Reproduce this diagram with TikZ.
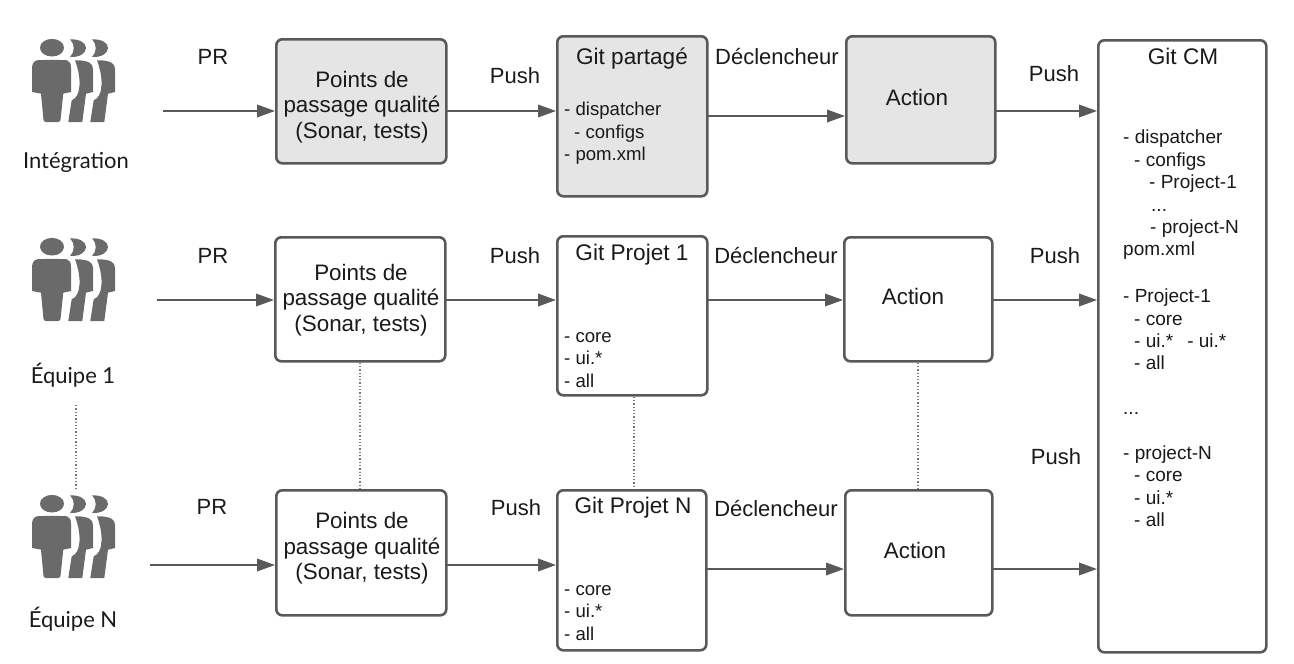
\documentclass[tikz,border=0pt]{standalone}
\usepackage{fontspec}
\setmainfont{Liberation Sans}
\newfontfamily\teamfont{Lato}
\usetikzlibrary{arrows.meta}
\definecolor{edge}{HTML}{595959}
\definecolor{shade}{HTML}{E5E5E5}
\definecolor{ink}{HTML}{1A1A1A}
\definecolor{figure}{HTML}{6A6A6A}
\newcommand{\pback}[1]{%
  \begin{scope}[xshift=#1pt]
    \fill[figure] (38,0.3) .. controls (48,0) and (54,4) .. (54,9) .. controls (54,14) and (48,18.5) .. (38,18) .. controls (43,13) and (43,5) .. (38,0.3) -- cycle;
    \fill[figure] (43,21.3) -- (47,21.3) .. controls (56,22) and (61,24) .. (61,30) -- (61,53) -- (54,54.7) -- (50.3,83) -- (36.3,83) -- (39.7,61.3) .. controls (49,58) and (50,40) .. (43,21.3) -- cycle;
  \end{scope}}
\newcommand{\pgroup}[2]{%
  \begin{scope}[shift={(#1,#2)}]
    \pback{22}\pback{0}
    \fill[figure] (20,8.7) ellipse [x radius=12, y radius=8.8];
    \fill[figure] (5,21.3) .. controls (9,20.8) and (31,20.8) .. (35,21.3)
      .. controls (38,22) and (39,25) .. (39,29) -- (39,53)
      -- (31.3,54.7) -- (28.5,81) .. controls (28,82.5) and (27,83) .. (26,83)
      -- (14,83) .. controls (13,83) and (12,82.5) .. (11.5,81)
      -- (9,54.7) -- (0,53) -- (0,29) .. controls (0,25) and (2,22) .. (5,21.3) -- cycle;
  \end{scope}}
\tikzset{
  x=1pt,y=-1pt,
  box/.style={draw=edge,line width=2.6pt,rounded corners=6pt,inner sep=0pt,anchor=north west,xshift=-1pt,yshift=1pt},
  plainbox/.style={box,fill=white},
  greybox/.style={box,fill=shade},
  flow/.style={draw=edge,line width=1.9pt,-{Triangle[length=18pt,width=12.5pt]}},
  link/.style={draw=edge!80,line width=1.3pt,dotted},
  lab/.style={text=ink,font=\fontsize{22}{25}\selectfont,inner sep=0pt},
  boxtext/.style={text=ink,font=\fontsize{22.4}{25.6}\selectfont,inner sep=0pt,align=center},
  team/.style={text=ink,font=\teamfont\fontsize{22}{26}\selectfont,inner sep=0pt},
  list/.style={text=ink,font=\fontsize{18.6}{22.5}\selectfont,inner sep=0pt,align=left,anchor=north west},
  cmlist/.style={list,font=\fontsize{19}{22.4}\selectfont},
  title/.style={text=ink,font=\fontsize{22.6}{26}\selectfont,inner sep=0pt},
}
\newcommand{\boxat}[6]{\node[#1,minimum width=#4pt,minimum height=#5pt] (#2) at (#3,#6) {};}
\begin{document}
\begin{tikzpicture}
\useasboundingbox (0,0) rectangle (1294,664);
% people
\pgroup{32}{39}
\pgroup{32}{238}
\pgroup{32}{495}
\node[team] (t1) at (76,162) {Intégration};
\node[team] (t2) at (73,375) {Équipe 1};
\node[team] (t3) at (73,619) {Équipe N};
% boxes
\boxat{greybox}{q1}{276}{170}{124}{39}
\boxat{plainbox}{q2}{275}{170}{124}{237}
\boxat{plainbox}{q3}{276}{170}{125}{490}
\boxat{greybox}{g1}{557}{150}{160}{36}
\boxat{plainbox}{g2}{557}{150}{159}{236}
\boxat{plainbox}{g3}{557}{149}{160}{490}
\boxat{greybox}{a1}{846}{149}{127}{36}
\boxat{plainbox}{a2}{844}{148}{124}{237}
\boxat{plainbox}{a3}{845}{147}{125}{490}
\boxat{plainbox}{cm}{1098}{168}{612}{40}
% box texts
\node[boxtext] (q1t) at (362,107) {Points de\\passage qualité\\(Sonar, tests)};
\node[boxtext] (q2t) at (361,300) {Points de\\passage qualité\\(Sonar, tests)};
\node[boxtext] (q3t) at (362,548.5) {Points de\\passage qualité\\(Sonar, tests)};
\node[boxtext] (a1t) at (917,97) {Action};
\node[boxtext] (a2t) at (913,296) {Action};
\node[boxtext] (a3t) at (915,550) {Action};
% titles and lists
\node[title] (g1t) at (632,59) {Git partagé};
\node[title] (g2t) at (632,255) {Git Projet 1};
\node[title] (g3t) at (633,508) {Git Projet N};
\node[title] (cmt) at (1183,56) {Git CM};
\node[list] (g1l) at (564,102) {- dispatcher\\\hspace*{10pt}- configs\\- pom.xml};
\node[list] (g2l) at (564,332) {- core\\- ui.*\\- all};
\node[list] (g3l) at (564,585) {- core\\- ui.*\\- all};
\node[cmlist] (cml) at (1123,130) {- dispatcher\\
\hspace*{11pt}- configs\\
\hspace*{26pt}- Project-1\\
\hspace*{28pt}...\\
\hspace*{27pt}- project-N\\
pom.xml\\[24.4pt]
- Project-1\\
\hspace*{11pt}- core\\
\hspace*{11pt}- ui.*\hspace*{14pt}- ui.*\\
\hspace*{11pt}- all\\[22.4pt]
...\\[22.4pt]
- project-N\\
\hspace*{11pt}- core\\
\hspace*{11pt}- ui.*\\
\hspace*{11pt}- all};
% free ends
\coordinate (s1) at (163,111);
\coordinate (s2) at (157,300);
\coordinate (s3) at (150,565);
\coordinate (d0) at (76,405);
\coordinate (d1) at (76,490);
% connectors
\draw[flow] (s1) -- (s1-|q1.west);
\draw[flow] (s2) -- (s2-|q2.west);
\draw[flow] (s3) -- (s3-|q3.west);
\coordinate (m1) at (446,111);\draw[flow] (m1) -- (m1-|g1.west);
\coordinate (m2) at (445,300);\draw[flow] (m2) -- (m2-|g2.west);
\coordinate (m3) at (446,565);\draw[flow] (m3) -- (m3-|g3.west);
\coordinate (n1) at (707,116);\draw[flow] (n1) -- (n1-|a1.west);
\coordinate (n2) at (707,300);\draw[flow] (n2) -- (n2-|a2.west);
\coordinate (n3) at (706,569);\draw[flow] (n3) -- (n3-|a3.west);
\coordinate (c1) at (995,111);\draw[flow] (c1) -- (c1-|cm.west);
\coordinate (c2) at (992,300);\draw[flow] (c2) -- (c2-|cm.west);
\coordinate (c3) at (992,569);\draw[flow] (c3) -- (c3-|cm.west);
\draw[link] (d0) -- (d1);
\draw[link] (q2.south-|360,0) -- (q3.north-|360,0);
\draw[link] (g2.south-|634,0) -- (g3.north-|634,0);
\draw[link] (a2.south-|918,0) -- (a3.north-|918,0);
% labels
\node[lab] (pr1) at (213,57) {PR};
\node[lab] (pr2) at (213,256) {PR};
\node[lab] (pr3) at (212,507) {PR};
\node[lab] (pu1) at (515,76) {Push};
\node[lab] (pu2) at (515,256) {Push};
\node[lab] (pu3) at (516,508) {Push};
\node[lab] (de1) at (777,57) {Déclencheur};
\node[lab] (de2) at (776,256) {Déclencheur};
\node[lab] (de3) at (776,509) {Déclencheur};
\node[lab] (pc1) at (1054,74) {Push};
\node[lab] (pc2) at (1055,256) {Push};
\node[lab] (pc3) at (1056,457) {Push};
\end{tikzpicture}
\end{document}
